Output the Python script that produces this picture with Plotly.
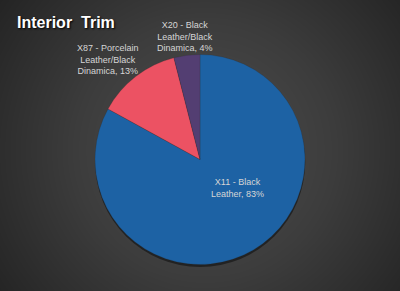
import numpy as np
import plotly.graph_objects as go

labels = ["X11 - Black<br>Leather", "X87 - Porcelain<br>Leather/Black<br>Dinamica", "X20 - Black<br>Leather/Black<br>Dinamica"]
values = [83, 13, 4]
colors = ["#1d62a4", "#ec5263", "#533e72"]
title_text = "Interior  Trim"

W, H = 400, 291

# label placement (paper coords, anchors) – layout only
label_pos = [
    dict(x=237 / W, y=1 - 188 / H, xanchor="center", yanchor="middle"),
    dict(x=108 / W, y=1 - 60 / H, xanchor="center", yanchor="middle"),
    dict(x=184.5 / W, y=1 - 36 / H, xanchor="center", yanchor="middle"),
]

# radial gradient background
gx = np.linspace(0, W, 81)
gy = np.linspace(0, H, 61)
XX, YY = np.meshgrid(gx, gy)
dist = np.sqrt((XX - 205) ** 2 + (YY - 150) ** 2)
bg = np.clip(dist / 260.0, 0, 1)

fig = go.Figure()
fig.add_trace(go.Heatmap(
    x=gx, y=gy, z=bg, zmin=0, zmax=1, zsmooth="best",
    colorscale=[[0, "#4e4e4e"], [0.5, "#3c3c3c"], [1, "#232323"]],
    showscale=False, hoverinfo="skip", xaxis="x", yaxis="y",
))

dom_x = [95 / W, 305 / W]
dom_y = [1 - 265 / H, 1 - 54 / H]

# soft shadow beneath the pie
fig.add_trace(go.Pie(
    values=[1], labels=[""], marker=dict(colors=["rgba(0,0,0,0.45)"], line=dict(width=0)),
    domain=dict(x=[dom_x[0] + 0.2 / W, dom_x[1] + 0.2 / W], y=[dom_y[0] - 2.5 / H, dom_y[1] - 2.5 / H]),
    textinfo="none", hoverinfo="skip", showlegend=False, sort=False,
))

fig.add_trace(go.Pie(
    labels=labels, values=values, sort=False, direction="clockwise", rotation=0,
    marker=dict(colors=colors, line=dict(width=0.5, color="rgba(40,40,40,0.4)")),
    textinfo="none",
    domain=dict(x=dom_x, y=dom_y),
    showlegend=False, hoverinfo="label+percent",
))

total = sum(values)
for lab, val, pos in zip(labels, values, label_pos):
    fig.add_annotation(
        text=f"{lab}, {round(100 * val / total)}%",
        xref="paper", yref="paper", showarrow=False, align="center",
        font=dict(family="Liberation Sans, Arial", size=9, color="#d6d6d6"),
        **pos,
    )

fig.update_layout(
    width=W, height=H,
    margin=dict(l=0, r=0, t=0, b=0),
    paper_bgcolor="#333333", plot_bgcolor="#333333",
    xaxis=dict(range=[0, W], visible=False, domain=[0, 1], fixedrange=True),
    yaxis=dict(range=[H, 0], visible=False, domain=[0, 1], fixedrange=True),
    title=dict(
        text=title_text, x=17 / W, xanchor="left", y=1 - 22 / H, yanchor="middle",
        font=dict(family="Liberation Sans, Arial", size=16, color="#ffffff", weight="bold",
                  shadow="1px 1px 2px #000000"),
    ),
    showlegend=False,
)

fig.write_html("out.html")
